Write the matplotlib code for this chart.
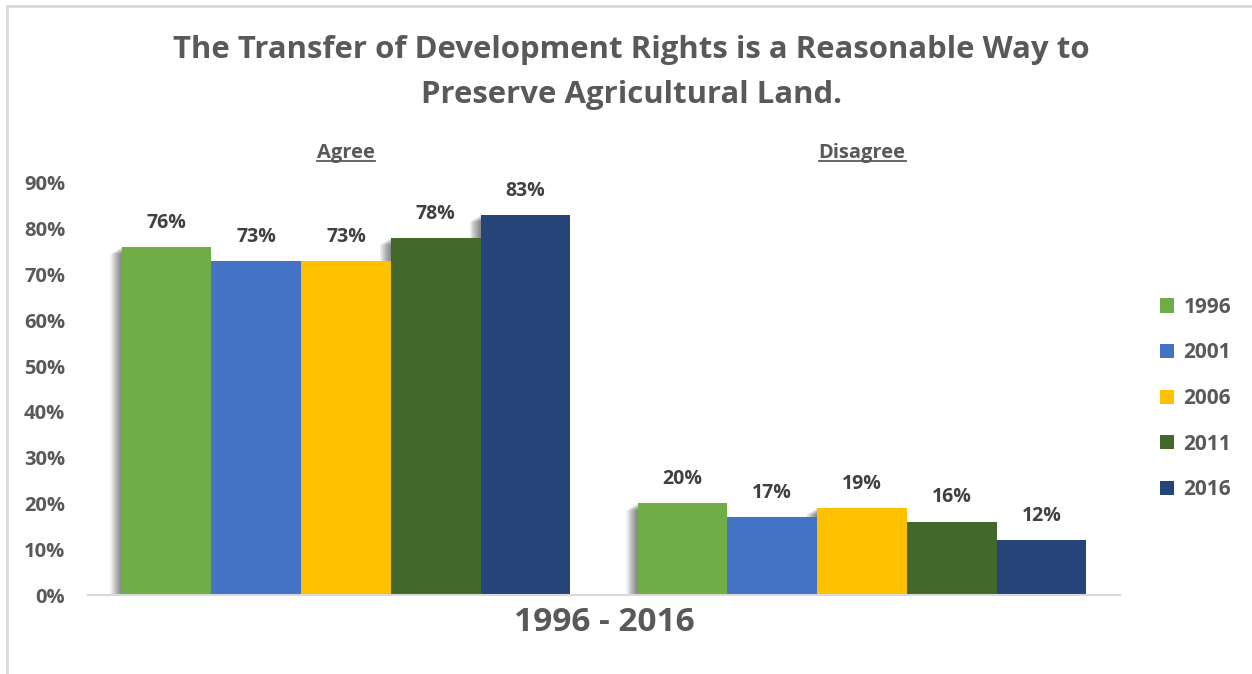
import matplotlib
matplotlib.use("Agg")
import matplotlib.pyplot as plt
import matplotlib.patheffects as pe
import numpy as np

plt.rcParams['font.family'] = ['Open Sans', 'DejaVu Sans']

groups = ["Agree", "Disagree"]
years = ["1996", "2001", "2006", "2011", "2016"]
values = {
    "1996": [76, 20],
    "2001": [73, 17],
    "2006": [73, 19],
    "2011": [78, 16],
    "2016": [83, 12],
}
colors = ["#70AD47", "#4472C4", "#FFC000", "#43682B", "#264478"]
title = "The Transfer of Development Rights is a Reasonable Way to\nPreserve Agricultural Land."
xlabel = "1996 - 2016"

W, H = 12.52, 6.74
fig = plt.figure(figsize=(W, H), dpi=100)
ax = fig.add_axes([0.0703, 0.1172, 0.8243, 0.6113])

x = np.arange(len(groups))
width = 0.174
offsets = (np.arange(len(years)) - 2) * width

# soft shadow behind the bars
shadow = [pe.SimplePatchShadow(offset=(-d * 0.5, -d * 0.3), shadow_rgbFace="black", alpha=0.035)
          for d in range(1, 17)]
for i, yr in enumerate(years):
    ax.bar(x + offsets[i], values[yr], width, color="white", zorder=1,
           path_effects=shadow)

for i, yr in enumerate(years):
    bars = ax.bar(x + offsets[i], values[yr], width, color=colors[i], label=yr, zorder=2)
    for b, v in zip(bars, values[yr]):
        ax.text(b.get_x() + b.get_width() / 2, v + 5.3, f"{v}%", ha="center", va="center",
                fontsize=14, fontweight="bold", color="#404040")

ax.set_xlim(-0.5, 1.5)
ax.set_ylim(0, 90)
ax.set_yticks(range(0, 91, 10))
ax.set_yticklabels([f"{t}%" for t in range(0, 91, 10)], fontsize=14.5, fontweight="bold",
                   color="#595959")
ax.tick_params(axis="y", length=0, pad=16.5)
ax.set_xticks([])
for s in ["top", "right", "left"]:
    ax.spines[s].set_visible(False)
ax.spines["bottom"].set_color("#d9d9d9")
ax.spines["bottom"].set_linewidth(1.5)
ax.spines["bottom"].set_zorder(3)

headers = []
for xi, g in zip(x, groups):
    headers.append(ax.text(xi, 1.073, g, transform=ax.get_xaxis_transform(), ha="center",
                           va="center", fontsize=14.5, fontweight="bold", color="#595959"))

# underline group headers
fig.canvas.draw()
renderer = fig.canvas.get_renderer()
for t in headers:
    bb = t.get_window_extent(renderer)
    y = bb.y0 + 2
    fig.add_artist(plt.Line2D([bb.x0 / fig.dpi / W, bb.x1 / fig.dpi / W],
                              [y / fig.dpi / H] * 2, color="#595959", lw=1.3))

fig.text(0.4824, 0.0757, xlabel, ha="center", va="center", fontsize=24, fontweight="bold",
         color="#595959")

fig.text(0.504, 0.8924, title, ha="center", va="center", fontsize=22.4, fontweight="bold",
         color="#595959", linespacing=1.66)

fig.legend(loc="center left", bbox_to_anchor=(0.9265, 0.4087), frameon=False,
           prop={"weight": "bold", "size": 15}, labelcolor="#595959",
           borderpad=0, borderaxespad=0,
           handlelength=0.68, handleheight=0.68, handletextpad=0.45, labelspacing=1.18)

# chart frame edges
fig.add_artist(plt.Line2D([0.0056, 0.0056], [0, 0.991], color="#d9d9d9", lw=2))
fig.add_artist(plt.Line2D([0.0056, 1], [0.991, 0.991], color="#d9d9d9", lw=2))

fig.savefig("out.png", dpi=100)
